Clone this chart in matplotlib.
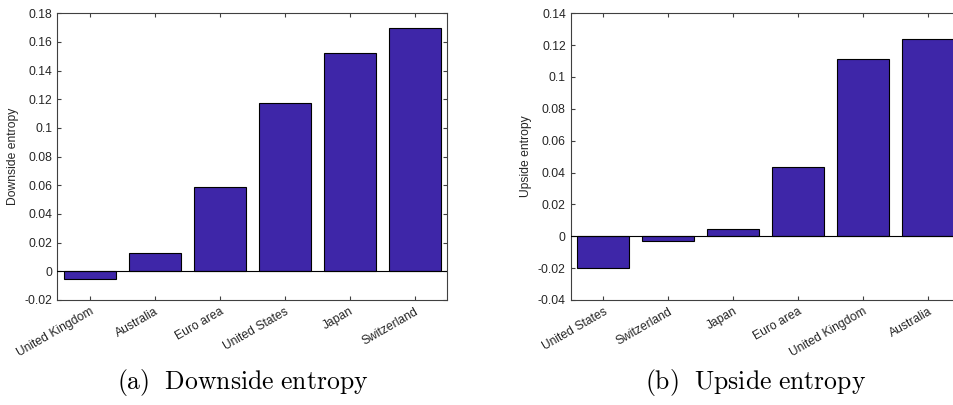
import numpy as np
import matplotlib
matplotlib.use('Agg')
import matplotlib.pyplot as plt
from matplotlib.ticker import FuncFormatter

plt.rcParams['font.family'] = ['Liberation Sans', 'DejaVu Sans']
plt.rcParams['axes.unicode_minus'] = False
plt.rcParams['mathtext.fontset'] = 'cm'

# (a) downside entropy
down_countries = ['United Kingdom', 'Australia', 'Euro area', 'United States', 'Japan', 'Switzerland']
down_values = [-0.0057, 0.0128, 0.0588, 0.1175, 0.1524, 0.1700]

# (b) upside entropy
up_countries = ['United States', 'Switzerland', 'Japan', 'Euro area', 'United Kingdom', 'Australia']
up_values = [-0.0202, -0.0030, 0.0046, 0.0435, 0.1114, 0.1238]

bar_color = '#3E26A8'
axis_color = '#404040'
text_color = '#262626'

fig = plt.figure(figsize=(9.54, 4.05), dpi=100)

def draw_panel(ax, names, vals, ylim, yticks, ylabel):
    x = np.arange(1, len(vals) + 1)
    ax.bar(x, vals, width=0.8, color=bar_color, edgecolor='black', linewidth=0.8, zorder=2)
    ax.axhline(0, color='black', linewidth=0.8, zorder=3)
    ax.set_xlim(0.5, len(vals) + 0.5)
    ax.set_ylim(*ylim)
    ax.set_yticks(yticks)
    ax.yaxis.set_major_formatter(FuncFormatter(lambda v, p: '%g' % round(v, 4)))
    ax.set_xticks(x)
    ax.set_xticklabels(names, rotation=30, ha='right', rotation_mode='anchor')
    ax.tick_params(direction='in', top=True, right=True, length=3, width=0.8,
                   color=axis_color, labelcolor=text_color, labelsize=8.7)
    ax.tick_params(axis='x', pad=4)
    for s in ax.spines.values():
        s.set_color(axis_color)
        s.set_linewidth(0.8)
    ax.set_ylabel(ylabel, fontsize=8.7, color=text_color, labelpad=4)

ax1 = fig.add_axes([0.0598, 0.2593, 0.4088, 0.708])
draw_panel(ax1, down_countries, down_values, (-0.02, 0.18),
           np.arange(-0.02, 0.1801, 0.02), 'Downside entropy')

ax2 = fig.add_axes([0.5982, 0.2593, 0.4088, 0.708])
draw_panel(ax2, up_countries, up_values, (-0.04, 0.14),
           np.arange(-0.04, 0.1401, 0.02), 'Upside entropy')

fig.text(243 / 954, 1 - 382 / 405, r'$\mathrm{(a)\ \ Downside\ entropy}$',
         ha='center', va='center', fontsize=18.5)
fig.text(756 / 954, 1 - 382 / 405, r'$\mathrm{(b)\ \ Upside\ entropy}$',
         ha='center', va='center', fontsize=18.5)

fig.savefig('out.png', dpi=100)
